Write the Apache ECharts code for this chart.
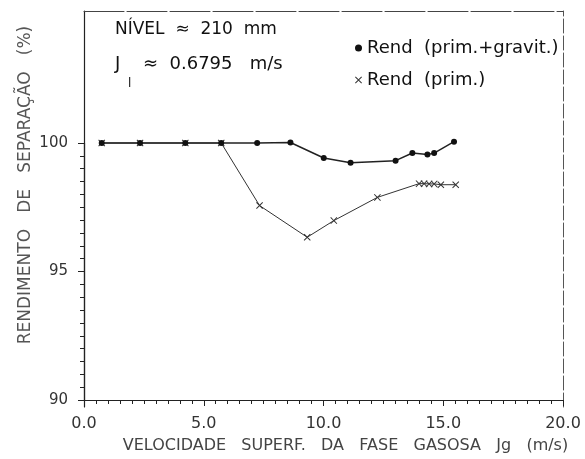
<!DOCTYPE html>
<html>
<head>
<meta charset="utf-8">
<script src="https://cdn.jsdelivr.net/npm/echarts@6/dist/echarts.min.js"></script>
<style>html,body{margin:0;padding:0;background:#fff}#c{width:585px;height:459px}</style>
</head>
<body>
<div id="c"></div>
<script>
// Data
const jgGrav   = [0.74, 2.34, 4.23, 5.73, 7.23, 8.62, 10.01, 11.13, 13.01, 13.71, 14.34, 14.62, 15.45];
const rendGrav = [100.0, 100.0, 100.0, 100.0, 100.0, 100.02, 99.43, 99.25, 99.33, 99.62, 99.56, 99.62, 100.05];
const jgPrim   = [0.74, 2.34, 4.23, 5.73, 7.33, 9.32, 10.43, 12.25, 13.99, 14.20, 14.41, 14.62, 14.90, 15.52];
const rendPrim = [100.0, 100.0, 100.0, 100.0, 97.63, 96.43, 97.06, 97.94, 98.46, 98.46, 98.45, 98.45, 98.42, 98.42];
const yTickLabels = [90, 95, 100];
const xTickLabels = ['0.0', '5.0', '10.0', '15.0', '20.0'];
const seriesNames = ['Rend  (prim.+gravit.)', 'Rend  (prim.)'];
const xTitle = 'VELOCIDADE   SUPERF.   DA   FASE   GASOSA   Jg   (m/s)';
const yTitle = 'RENDIMENTO   DE   SEPARAÇÃO   (%)';

const FONT = 'DejaVu Sans';
const crossPath = 'path://M0,1 L1,0 L5,4 L9,0 L10,1 L6,5 L10,9 L9,10 L5,6 L1,10 L0,9 L4,5 Z';

const chart = echarts.init(document.getElementById('c'), null, {renderer: 'canvas'});
chart.setOption({
  animation: false,
  backgroundColor: '#fff',
  textStyle: {fontFamily: FONT},
  grid: [
    {left: 84, right: 22, top: 11, bottom: 52},
    {left: 84, right: 22, top: 143, bottom: 52}
  ],
  xAxis: [
    {gridIndex: 0, type: 'value', min: 0, max: 20, show: false},
    {gridIndex: 0, type: 'value', min: 0, max: 20, position: 'top',
      axisLine: {show: true, lineStyle: {color: '#444', width: 1, type: [40, 3]}},
      axisTick: {show: false}, axisLabel: {show: false}, splitLine: {show: false}},
    {gridIndex: 1, type: 'value', min: 0, max: 20, interval: 5,
      axisLine: {show: true, onZero: false, lineStyle: {color: '#222', width: 1.2}},
      axisTick: {show: true, inside: false, length: 6, lineStyle: {color: '#222'}},
      minorTick: {show: true, splitNumber: 10, length: 4, lineStyle: {color: '#222'}},
      axisLabel: {show: true, margin: 16, color: '#333', fontSize: 16, fontFamily: FONT,
        showMinLabel: true, showMaxLabel: true,
        formatter: v => xTickLabels[Math.round(v / 5)] || ''},
      splitLine: {show: false},
      name: xTitle, nameLocation: 'middle', nameGap: 38,
      nameTextStyle: {color: '#444', fontSize: 16, fontFamily: FONT, padding: [0, 0, 0, 44]}}
  ],
  yAxis: [
    {gridIndex: 0, type: 'value', min: 90, max: 105,
      axisLine: {show: true, onZero: false, lineStyle: {color: '#222', width: 1.2}},
      axisTick: {show: false}, axisLabel: {show: false}, splitLine: {show: false},
      name: yTitle, nameLocation: 'middle', nameRotate: 90, nameGap: 50,
      nameTextStyle: {color: '#555', fontSize: 17, fontFamily: FONT, padding: [0, 0, 0, 48]}},
    {gridIndex: 0, type: 'value', min: 90, max: 105, position: 'right',
      axisLine: {show: true, onZero: false, lineStyle: {color: '#555', width: 1, type: [14, 3]}},
      axisTick: {show: false}, axisLabel: {show: false}, splitLine: {show: false}},
    {gridIndex: 1, type: 'value', min: 90, max: 100, interval: 5,
      axisLine: {show: true, onZero: false, lineStyle: {color: '#222', width: 1.2}},
      axisTick: {show: true, inside: false, length: 6, lineStyle: {color: '#222'}},
      minorTick: {show: true, splitNumber: 10, length: 4, lineStyle: {color: '#222'}},
      axisLabel: {show: true, margin: 16, color: '#333', fontSize: 15, fontFamily: FONT,
        formatter: v => (yTickLabels.indexOf(Math.round(v)) >= 0 ? String(Math.round(v)) : '')},
      splitLine: {show: false}}
  ],
  legend: {
    orient: 'vertical', left: 350, top: 34, itemGap: 14,
    itemWidth: 7, itemHeight: 7,
    textStyle: {color: '#111', fontSize: 18, fontFamily: FONT},
    data: [
      {name: seriesNames[0], icon: 'circle', itemStyle: {color: '#111'}},
      {name: seriesNames[1], icon: crossPath, itemStyle: {color: '#333'}}
    ]
  },
  series: [
    {name: seriesNames[1], type: 'line', xAxisIndex: 0, yAxisIndex: 0,
      data: jgPrim.map((x, i) => [x, rendPrim[i]]),
      symbol: crossPath, symbolSize: 7,
      itemStyle: {color: '#333'}, lineStyle: {color: '#333', width: 1}},
    {name: seriesNames[0], type: 'line', xAxisIndex: 0, yAxisIndex: 0,
      data: jgGrav.map((x, i) => [x, rendGrav[i]]),
      symbol: 'circle', symbolSize: 6,
      itemStyle: {color: '#111'}, lineStyle: {color: '#222', width: 1.5}}
  ],
  graphic: [
    {type: 'text', left: 115, top: 21, style: {text: 'NÍVEL  ≈  210  mm', fill: '#111', font: '17px "DejaVu Sans"'}},
    {type: 'text', left: 115, top: 55, style: {text: 'J', fill: '#111', font: '18px "DejaVu Sans"'}},
    {type: 'text', left: 128, top: 78, style: {text: 'l', fill: '#111', font: '12px "DejaVu Sans"'}},
    {type: 'text', left: 143, top: 55, style: {text: '≈  0.6795   m/s', fill: '#111', font: '18px "DejaVu Sans"'}}
  ]
});
</script>
</body>
</html>
